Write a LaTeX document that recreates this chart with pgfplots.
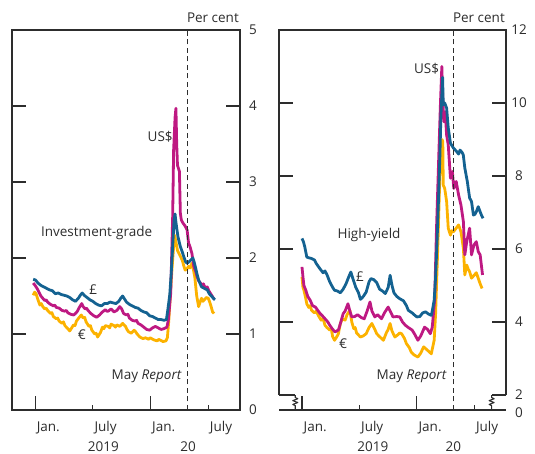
\documentclass[border=0pt]{standalone}
\usepackage{fontspec}
\setmainfont{Open Sans}
\usepackage{pgfplots}
\pgfplotsset{compat=1.18}
\definecolor{gbp}{RGB}{20,98,145}
\definecolor{usd}{RGB}{190,25,130}
\definecolor{eur}{RGB}{252,178,0}
\definecolor{txt}{RGB}{45,45,45}
\newcommand{\fs}{\fontsize{13.5}{16}\selectfont}
\pgfplotsset{boe/.style={
  scale only axis, width=228pt, height=380pt,
  xmin=-2.4, xmax=21.3, clip=false,
  xtick={0,12}, xticklabels={Jan.,Jan.},
  extra x ticks={6,18}, extra x tick labels={July,July},
  extra x tick style={major tick length=5pt},
  major tick length=14pt,
  xtick pos=left, ytick pos=both, yticklabel pos=right,
  /pgf/number format/assume math mode=true,
  tick label style={font=\fs, text=txt},
  xticklabel style={anchor=base west, inner sep=0pt, xshift=1.5pt, yshift=-21.7pt},
  yticklabel style={anchor=center, xshift=13pt},
  tick style={txt, line width=1.1pt},
  axis line style={txt, line width=1.3pt},
  every axis plot/.append style={line width=2.8pt, line join=round},
}}
\begin{document}
\begin{tikzpicture}[font=\fs]
\useasboundingbox (0,0) rectangle (535pt,454pt);
% ---------------- Investment-grade
\begin{axis}[boe, at={(12pt,44pt)}, anchor=south west,
  ymin=0, ymax=5, ytick={0,1,2,3,4,5}]
\addplot[eur] coordinates {(-0.2,1.51)(-0.05,1.55)(0.1,1.53)(0.3,1.45)(0.5,1.38)(0.65,1.40)(0.8,1.36)(1.0,1.33)(1.15,1.34)(1.3,1.31)(1.6,1.27)(1.75,1.28)(1.9,1.23)(2.2,1.20)(2.35,1.21)(2.5,1.17)(2.8,1.14)(2.95,1.16)(3.1,1.11)(3.4,1.07)(3.6,1.04)(3.8,1.08)(4.0,1.12)(4.15,1.11)(4.3,1.17)(4.6,1.22)(4.8,1.25)(5.0,1.21)(5.15,1.22)(5.3,1.16)(5.6,1.10)(5.75,1.11)(5.9,1.05)(6.2,1.00)(6.35,1.01)(6.5,0.96)(6.8,1.02)(7.0,1.09)(7.15,1.07)(7.3,1.11)(7.6,1.10)(7.75,1.08)(7.9,1.13)(8.2,1.11)(8.35,1.09)(8.5,1.12)(8.8,1.10)(9.1,1.14)(9.4,1.10)(9.55,1.06)(9.7,1.03)(10.0,1.01)(10.3,1.05)(10.45,1.03)(10.6,1.00)(10.9,0.96)(11.2,0.94)(11.5,0.95)(11.8,0.93)(11.95,0.95)(12.1,0.94)(12.4,0.92)(12.7,0.91)(12.85,0.93)(13.0,0.92)(13.3,0.90)(13.6,0.91)(13.75,0.95)(13.9,1.18)(14.1,1.60)(14.25,1.89)(14.4,2.15)(14.5,2.30)(14.6,2.24)(14.8,2.10)(15.0,2.05)(15.3,1.97)(15.45,1.90)(15.6,1.84)(15.8,1.86)(15.95,1.89)(16.1,1.87)(16.3,1.93)(16.45,1.85)(16.6,1.75)(16.8,1.50)(17.0,1.36)(17.15,1.42)(17.3,1.47)(17.45,1.43)(17.6,1.45)(17.8,1.48)(18.0,1.47)(18.15,1.42)(18.3,1.36)(18.45,1.29)(18.6,1.27)};
\addplot[usd] coordinates {(-0.2,1.67)(0.0,1.64)(0.2,1.60)(0.4,1.55)(0.6,1.50)(0.8,1.47)(1.0,1.44)(1.15,1.45)(1.3,1.42)(1.6,1.39)(1.9,1.37)(2.05,1.38)(2.2,1.35)(2.5,1.34)(2.8,1.31)(3.1,1.30)(3.25,1.31)(3.4,1.28)(3.7,1.26)(4.0,1.25)(4.2,1.27)(4.4,1.30)(4.6,1.35)(4.85,1.40)(5.0,1.36)(5.2,1.33)(5.35,1.34)(5.5,1.31)(5.8,1.27)(6.1,1.24)(6.4,1.22)(6.7,1.25)(7.0,1.29)(7.3,1.32)(7.45,1.30)(7.6,1.30)(7.9,1.33)(8.05,1.31)(8.2,1.29)(8.5,1.31)(8.8,1.36)(9.0,1.33)(9.2,1.27)(9.5,1.25)(9.65,1.26)(9.8,1.21)(10.1,1.18)(10.4,1.17)(10.55,1.18)(10.7,1.14)(11.0,1.12)(11.3,1.09)(11.6,1.06)(11.9,1.05)(12.2,1.08)(12.5,1.10)(12.8,1.08)(13.1,1.06)(13.4,1.07)(13.7,1.09)(13.85,1.18)(14.1,1.54)(14.3,2.54)(14.4,3.42)(14.55,3.85)(14.64,3.97)(14.72,3.50)(14.8,3.22)(14.9,3.18)(15.0,3.14)(15.1,2.59)(15.2,2.50)(15.37,2.46)(15.6,2.42)(15.8,2.37)(15.95,2.20)(16.1,2.15)(16.3,2.06)(16.5,1.89)(16.7,1.82)(16.85,1.75)(17.0,1.70)(17.2,1.67)(17.35,1.63)(17.5,1.66)(17.7,1.60)(17.9,1.62)(18.05,1.57)(18.2,1.54)(18.4,1.50)(18.6,1.46)};
\addplot[gbp] coordinates {(-0.2,1.72)(0.05,1.71)(0.3,1.67)(0.6,1.64)(0.9,1.62)(1.2,1.60)(1.5,1.58)(1.8,1.57)(2.1,1.53)(2.4,1.54)(2.7,1.52)(3.0,1.51)(3.3,1.50)(3.6,1.48)(3.9,1.45)(4.2,1.43)(4.5,1.47)(4.7,1.51)(4.9,1.54)(5.1,1.51)(5.4,1.48)(5.7,1.45)(6.0,1.43)(6.3,1.40)(6.6,1.38)(6.9,1.37)(7.2,1.40)(7.5,1.40)(7.8,1.42)(8.1,1.41)(8.4,1.40)(8.7,1.43)(8.9,1.47)(9.1,1.50)(9.3,1.46)(9.5,1.42)(9.8,1.39)(10.1,1.37)(10.4,1.35)(10.7,1.34)(11.0,1.31)(11.3,1.29)(11.6,1.28)(11.9,1.24)(12.2,1.23)(12.5,1.21)(12.8,1.19)(13.1,1.19)(13.4,1.18)(13.65,1.19)(13.8,1.32)(14.0,1.52)(14.15,1.80)(14.3,2.15)(14.45,2.50)(14.55,2.58)(14.65,2.46)(14.85,2.28)(15.1,2.15)(15.3,2.08)(15.45,2.02)(15.65,1.95)(15.8,1.93)(16.0,1.95)(16.15,1.97)(16.4,2.00)(16.55,1.94)(16.65,1.89)(16.85,1.78)(17.0,1.71)(17.2,1.65)(17.3,1.62)(17.6,1.60)(17.9,1.58)(18.1,1.53)(18.4,1.49)(18.6,1.46)(18.7,1.45)};
\addplot[txt, line width=1.1pt, dash pattern=on 5pt off 3.5pt] coordinates {(15.85,0)(15.85,5)};
\node[text=txt] at (axis cs:13.0,3.59) {US\$};
\node[text=txt] at (axis cs:6.4,2.33) {Investment-grade};
\node[text=txt] at (axis cs:6.05,1.58) {£};
\node[text=txt] at (axis cs:4.85,0.99) {€};
\node[text=txt] at (axis cs:11.6,0.44) {May \textit{Report}};
\node[text=txt, anchor=base east, inner sep=0pt, xshift=-1pt, yshift=7pt] at (rel axis cs:1,1) {Per cent};
\node[text=txt, anchor=base, inner sep=0pt, yshift=-41.7pt] at (axis cs:7.1,0) {2019};
\node[text=txt, anchor=base, inner sep=0pt, yshift=-41.7pt] at (axis cs:15.9,0) {20};
\end{axis}
% ---------------- High-yield
\begin{axis}[boe, at={(279pt,44pt)}, anchor=south west, width=227pt,
  ymin=1.59, ymax=12, ytick={4,6,8,10,12}, axis line style={draw=none}]
\addplot[eur] coordinates {(0.0,5.24)(0.1,4.95)(0.2,4.87)(0.35,4.70)(0.5,4.50)(0.7,4.40)(0.85,4.45)(1.0,4.32)(1.3,4.25)(1.5,4.30)(1.7,4.18)(2.0,4.05)(2.2,4.10)(2.4,3.91)(2.6,3.85)(2.9,3.78)(3.05,3.82)(3.2,3.60)(3.4,3.50)(3.6,3.58)(3.8,3.68)(4.0,3.95)(4.2,4.09)(4.5,4.05)(4.7,4.20)(5.0,4.32)(5.2,4.00)(5.4,3.82)(5.55,3.85)(5.7,3.70)(6.1,3.59)(6.4,3.62)(6.7,3.68)(7.0,3.85)(7.3,3.96)(7.6,3.80)(7.8,3.68)(8.1,3.60)(8.5,3.50)(8.8,3.70)(9.0,3.80)(9.2,3.96)(9.4,3.75)(9.7,3.59)(10.0,3.65)(10.2,3.70)(10.4,3.68)(10.7,3.55)(10.9,3.41)(11.2,3.30)(11.4,3.18)(11.7,3.10)(12.1,3.04)(12.4,3.15)(12.7,3.32)(13.0,3.25)(13.3,3.18)(13.5,3.13)(13.8,3.50)(13.95,4.23)(14.2,6.24)(14.45,8.53)(14.62,9.00)(14.7,8.94)(14.75,7.75)(14.9,7.66)(15.1,7.30)(15.27,6.57)(15.5,6.38)(15.65,6.50)(15.8,6.47)(16.1,6.57)(16.35,6.66)(16.6,6.47)(16.85,6.02)(17.0,5.29)(17.2,5.56)(17.35,5.45)(17.5,5.38)(17.7,5.20)(18.0,5.29)(18.2,5.35)(18.4,5.20)(18.6,5.05)(18.8,4.92)};
\addplot[usd] coordinates {(0.0,5.51)(0.1,5.24)(0.2,5.00)(0.4,4.87)(0.6,4.70)(0.85,4.60)(1.1,4.45)(1.4,4.41)(1.7,4.30)(1.9,4.23)(2.2,4.15)(2.4,4.09)(2.7,4.00)(2.9,3.91)(3.2,3.80)(3.45,3.73)(3.8,3.78)(4.0,3.95)(4.3,4.23)(4.5,4.30)(4.8,4.50)(5.0,4.30)(5.2,4.14)(5.5,4.15)(5.8,4.20)(6.2,4.12)(6.5,4.09)(6.8,4.30)(7.1,4.55)(7.3,4.30)(7.6,4.14)(7.9,4.20)(8.3,4.09)(8.6,4.25)(9.0,4.41)(9.3,4.25)(9.5,4.14)(9.9,4.15)(10.2,4.14)(10.5,4.00)(10.8,3.91)(11.1,3.85)(11.5,3.78)(11.8,3.65)(12.1,3.50)(12.4,3.62)(12.8,3.86)(13.1,3.80)(13.4,3.68)(13.6,3.86)(13.85,4.60)(14.05,6.61)(14.3,8.71)(14.45,9.95)(14.6,11.0)(14.7,10.1)(14.8,9.49)(14.95,9.76)(15.1,9.12)(15.27,8.85)(15.5,7.94)(15.7,8.12)(15.85,7.66)(16.1,7.85)(16.35,7.48)(16.6,7.20)(16.85,6.75)(17.0,5.84)(17.2,6.20)(17.5,6.57)(17.7,5.84)(17.95,6.11)(18.2,6.20)(18.4,5.93)(18.6,5.84)(18.85,5.29)};
\addplot[gbp] coordinates {(0.0,6.29)(0.15,6.20)(0.3,6.05)(0.5,5.78)(0.7,5.76)(1.0,5.74)(1.3,5.70)(1.5,5.60)(1.9,5.45)(2.2,5.35)(2.4,5.40)(2.6,5.30)(2.9,5.10)(3.2,4.95)(3.4,4.87)(3.7,4.85)(4.0,4.80)(4.3,4.90)(4.6,5.05)(4.9,5.25)(5.1,5.37)(5.3,5.20)(5.6,4.96)(5.9,4.80)(6.1,4.62)(6.4,4.70)(6.7,4.82)(7.0,5.10)(7.2,5.19)(7.5,5.16)(7.8,5.08)(8.1,4.90)(8.4,4.85)(8.7,4.78)(9.0,4.95)(9.2,5.28)(9.4,5.00)(9.6,4.80)(9.9,4.70)(10.2,4.64)(10.6,4.58)(10.9,4.45)(11.1,4.32)(11.5,4.25)(11.8,4.18)(12.0,4.14)(12.3,4.15)(12.6,4.25)(12.9,4.28)(13.2,4.22)(13.5,4.18)(13.6,4.30)(13.8,4.60)(13.95,5.24)(14.1,6.20)(14.25,7.34)(14.4,8.58)(14.5,9.62)(14.6,10.20)(14.68,10.70)(14.75,9.95)(14.9,10.00)(15.1,9.86)(15.27,9.32)(15.5,8.90)(15.8,8.77)(16.15,8.67)(16.35,8.60)(16.5,8.71)(16.7,8.65)(16.84,8.58)(17.0,8.22)(17.26,7.85)(17.5,7.40)(17.7,7.30)(17.9,6.93)(18.05,6.95)(18.2,7.02)(18.4,7.16)(18.6,7.02)(18.75,6.92)(18.9,6.84)};
\addplot[txt, line width=1.1pt, dash pattern=on 5pt off 3.5pt] coordinates {(15.85,1.59)(15.85,12)};
\draw[txt, line width=1.3pt] (axis cs:-2.4,2) -- (axis cs:-2.4,12) -- (axis cs:21.3,12) -- (axis cs:21.3,2);
\draw[txt, line width=1.3pt] (axis cs:-2.4,1.59) -- (axis cs:21.3,1.59);
\draw[txt, line width=1.1pt] (axis cs:-2.4,2) -- (axis cs:-0.7,2);
\draw[txt, line width=1.1pt] (axis cs:21.3,2) -- (axis cs:19.8,2);
\coordinate (zl) at (axis cs:-0.7,2);
\coordinate (zr) at (axis cs:19.8,2);
\node[text=txt, xshift=13pt] at (axis cs:21.3,2) {2};
\node[text=txt, xshift=13pt, yshift=-3pt] at (axis cs:21.3,1.59) {0};
\node[text=txt] at (axis cs:13.0,10.95) {US\$};
\node[text=txt] at (axis cs:7.0,6.38) {High-yield};
\node[text=txt] at (axis cs:6.05,5.24) {£};
\node[text=txt] at (axis cs:4.3,3.42) {€};
\node[text=txt] at (axis cs:11.45,2.5) {May \textit{Report}};
\node[text=txt, anchor=base east, inner sep=0pt, xshift=-1pt, yshift=7pt] at (rel axis cs:1,1) {Per cent};
\node[text=txt, anchor=base, inner sep=0pt, yshift=-41.7pt] at (axis cs:7.4,1.59) {2019};
\node[text=txt, anchor=base, inner sep=0pt, yshift=-41.7pt] at (axis cs:15.8,1.59) {20};
\end{axis}
\foreach \z in {zl,zr}{
  \draw[txt, line width=1.1pt, line join=round] (\z) -- ++(0,-2.5pt) -- ++(2.5pt,-1.2pt) -- ++(-5pt,-1.9pt) -- ++(5pt,-1.9pt) -- ++(-5pt,-1.9pt) -- ++(2.5pt,-1.2pt) -- ++(0,-4.4pt);
}
\end{tikzpicture}
\end{document}
